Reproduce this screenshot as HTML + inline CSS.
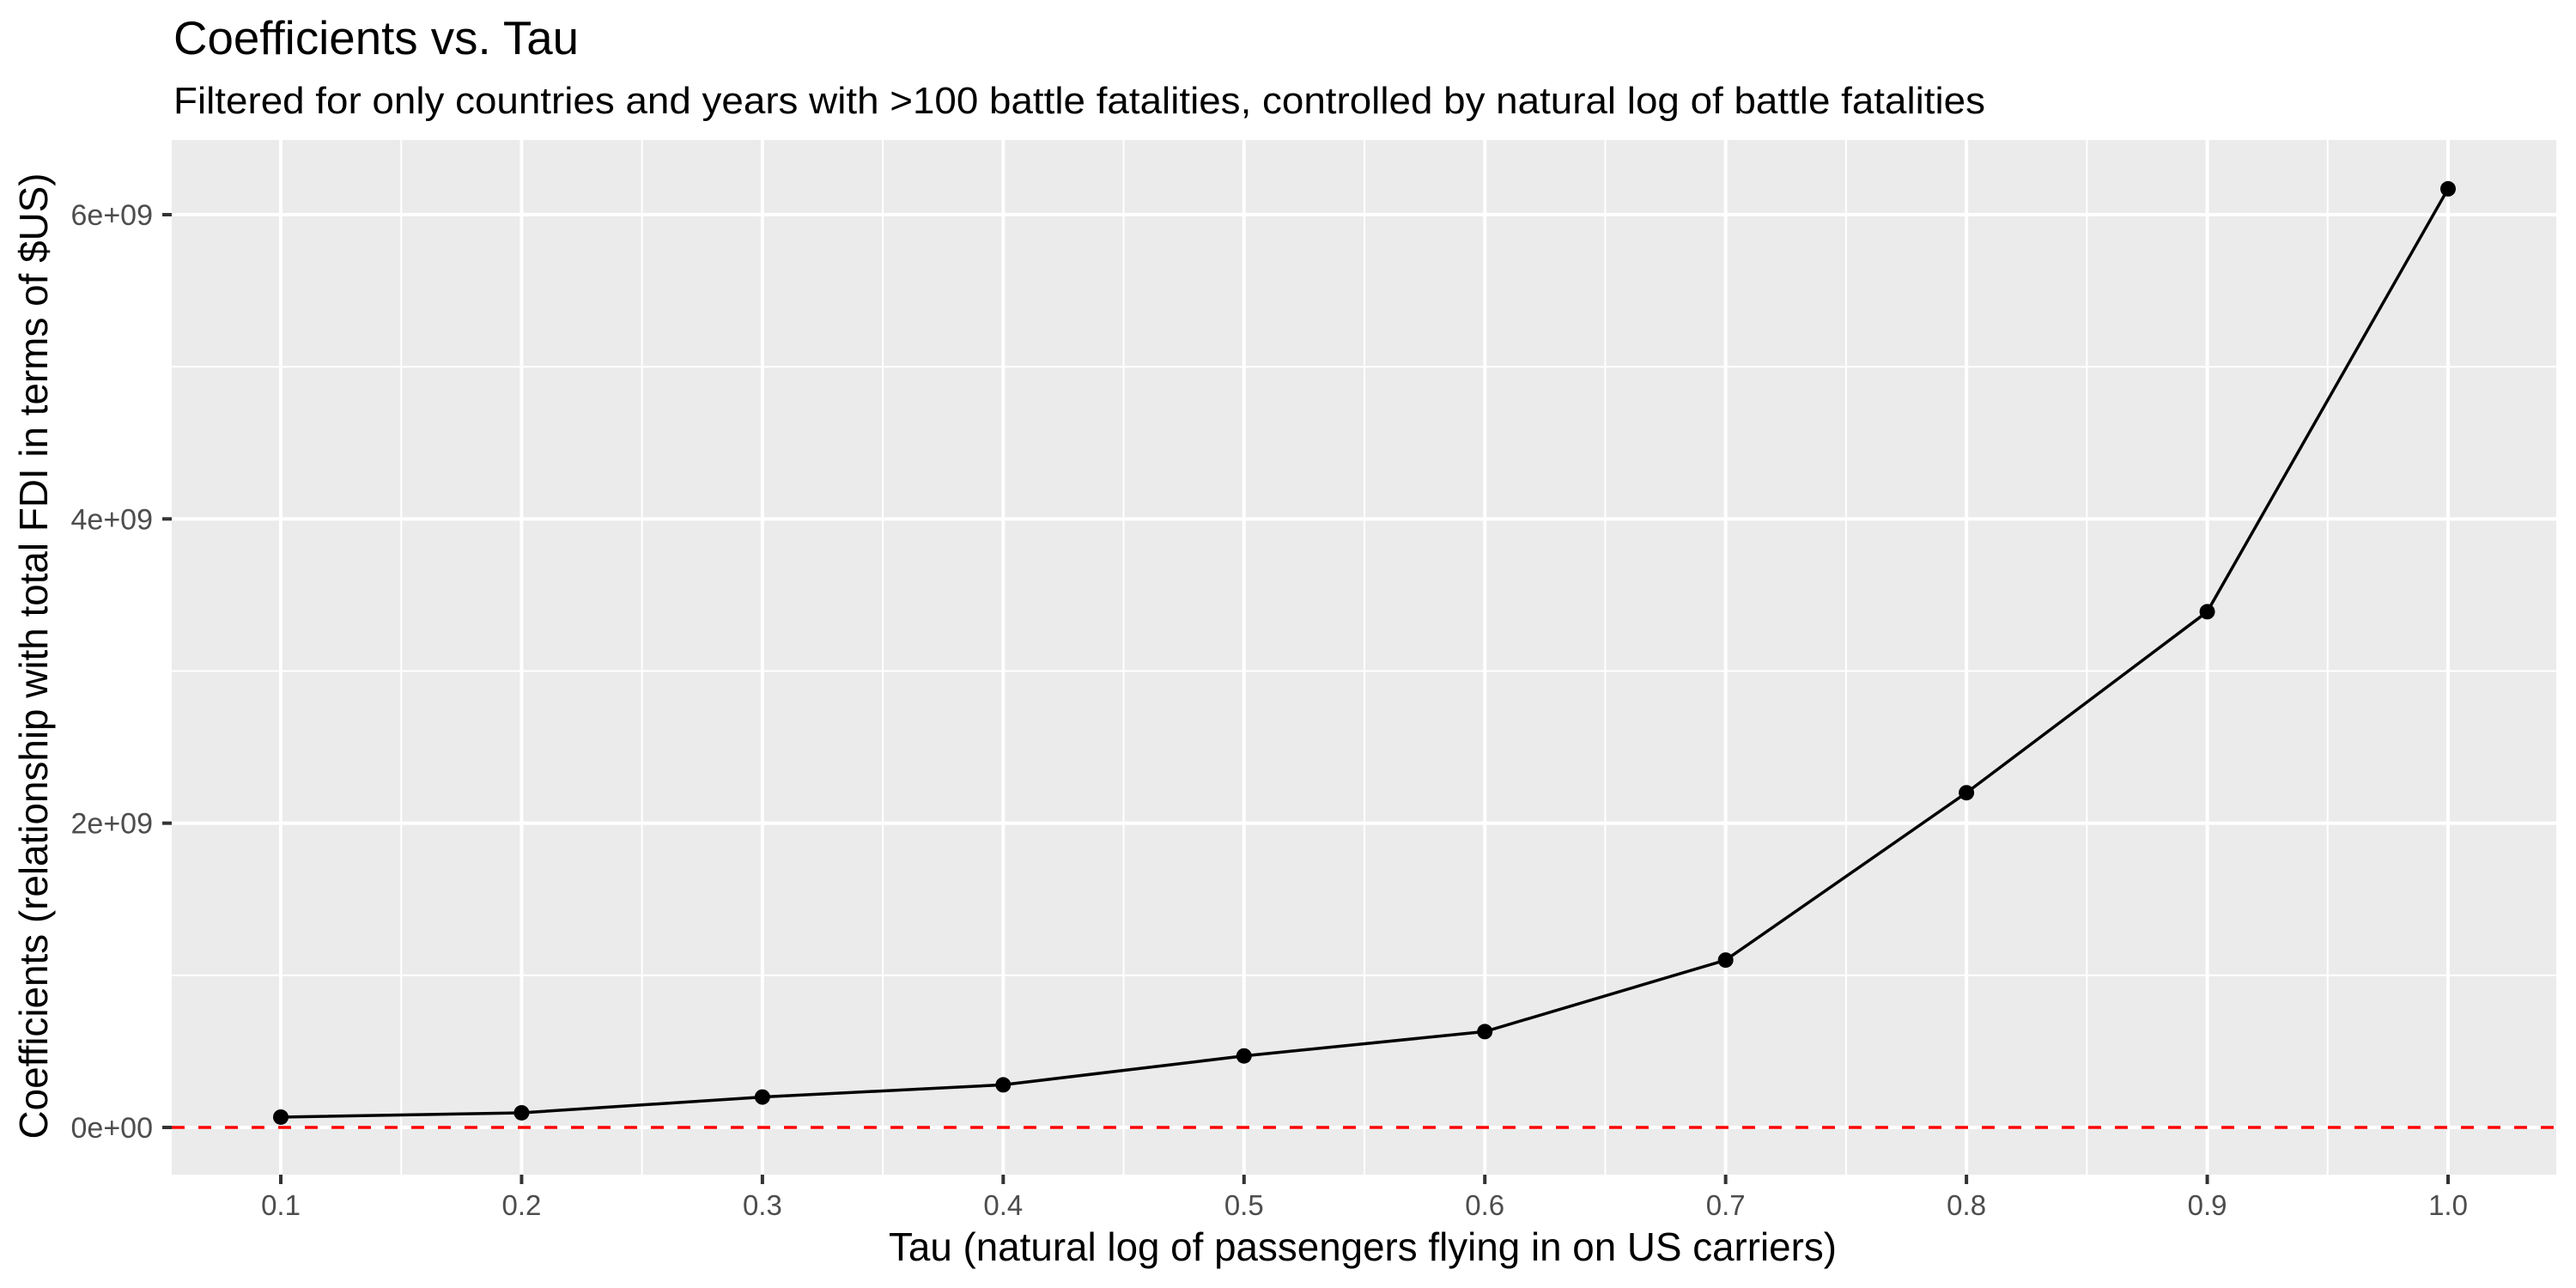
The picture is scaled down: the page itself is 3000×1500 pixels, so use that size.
<!DOCTYPE html>
<html><head><meta charset="utf-8"><style>
html,body{margin:0;padding:0;background:#fff}
svg{display:block;font-family:"Liberation Sans",sans-serif}
</style></head><body>
<svg id="chart" width="3000" height="1500" viewBox="0 0 3000 1500">
<rect x="0" y="0" width="3000" height="1500" fill="#fff"/>
<text x="202" y="63" font-size="55" fill="#000" textLength="472" lengthAdjust="spacingAndGlyphs">Coefficients vs. Tau</text>
<text x="202" y="132" font-size="44" fill="#000" textLength="2110" lengthAdjust="spacingAndGlyphs">Filtered for only countries and years with &gt;100 battle fatalities, controlled by natural log of battle fatalities</text>
<rect x="200" y="163" width="2777" height="1205" fill="#ebebeb"/>
<g id="grid"></g>
<g id="axes"></g>
<g id="marks"></g>
<text x="1587" y="1468" font-size="46" fill="#000" text-anchor="middle" textLength="1104" lengthAdjust="spacingAndGlyphs">Tau (natural log of passengers flying in on US carriers)</text>
<text transform="translate(55,764) rotate(-90)" font-size="46" fill="#000" text-anchor="middle" textLength="1125" lengthAdjust="spacingAndGlyphs">Coefficients (relationship with total FDI in terms of $US)</text>
</svg>
<script>
const taus = [0.1,0.2,0.3,0.4,0.5,0.6,0.7,0.8,0.9,1.0];
const coefs = [0.068e9,0.096e9,0.2e9,0.28e9,0.47e9,0.63e9,1.1e9,2.2e9,3.39e9,6.17e9];
const xTicks = [0.1,0.2,0.3,0.4,0.5,0.6,0.7,0.8,0.9,1.0];
const xTickLabels = ["0.1","0.2","0.3","0.4","0.5","0.6","0.7","0.8","0.9","1.0"];
const xMinor = [0.15,0.25,0.35,0.45,0.55,0.65,0.75,0.85,0.95];
const yTicks = [0,2e9,4e9,6e9];
const yTickLabels = ["0e+00","2e+09","4e+09","6e+09"];
const yMinor = [1e9,3e9,5e9];
const refLine = 0;

const PL=200,PR=2977,PT=163,PB=1368;
function xs(v){return 327+(v-0.1)*(2851-327)/0.9;}
function ys(v){return 1313-v*(1313-250)/6e9;}
const NS="http://www.w3.org/2000/svg";
function mk(tag,attrs,parent){const e=document.createElementNS(NS,tag);for(const k in attrs)e.setAttribute(k,attrs[k]);parent.appendChild(e);return e;}
const grid=document.getElementById('grid'),axes=document.getElementById('axes'),marks=document.getElementById('marks');
yMinor.forEach(v=>{const e=mk('line',{x1:PL,x2:PR,y1:ys(v),y2:ys(v),stroke:'#fff','stroke-width':2},grid);

});
xMinor.forEach(v=>{const e=mk('line',{x1:xs(v),x2:xs(v),y1:PT,y2:PB,stroke:'#fff','stroke-width':2},grid);

});
yTicks.forEach((v,i)=>{const e=mk('line',{x1:PL,x2:PR,y1:ys(v),y2:ys(v),stroke:'#fff','stroke-width':4},grid);


const t=mk('line',{x1:PL-11,x2:PL,y1:ys(v),y2:ys(v),stroke:'#333','stroke-width':4},axes);


const l=mk('text',{x:PL-22,y:ys(v)+12,'font-size':34,fill:'#4d4d4d','text-anchor':'end'},axes);
l.textContent=yTickLabels[i];

});
xTicks.forEach((v,i)=>{const e=mk('line',{x1:xs(v),x2:xs(v),y1:PT,y2:PB,stroke:'#fff','stroke-width':4},grid);


const t=mk('line',{x1:xs(v),x2:xs(v),y1:PB,y2:PB+11,stroke:'#333','stroke-width':4},axes);


const l=mk('text',{x:xs(v),y:1415,'font-size':33,fill:'#4d4d4d','text-anchor':'middle'},axes);
l.textContent=xTickLabels[i];

});
const ref=mk('line',{x1:PL,x2:PR,y1:ys(refLine),y2:ys(refLine),stroke:'#ff0000','stroke-width':3.5,'stroke-dasharray':'15 16'},marks);


const pts=taus.map((t,i)=>xs(t)+','+ys(coefs[i])).join(' ');
const pl=mk('polyline',{points:pts,fill:'none',stroke:'#000','stroke-width':3.5},marks);


taus.forEach((t,i)=>{const c=mk('circle',{cx:xs(t),cy:ys(coefs[i]),r:9,fill:'#000'},marks);

});
</script>
</body></html>
